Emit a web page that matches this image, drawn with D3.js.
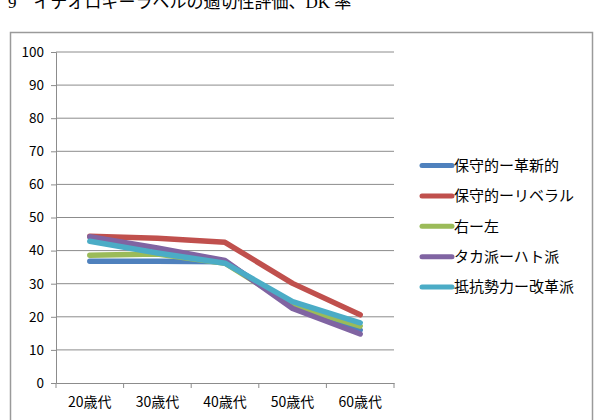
<!DOCTYPE html>
<html>
<head>
<meta charset="utf-8">
<script src="https://cdn.jsdelivr.net/npm/d3@7"></script>
<style>
  body { margin: 0; background: #fff; }
  svg { display: block; }
</style>
</head>
<body>
<div class="chart"></div>
<script>
// data
const ages = ['20歳代', '30歳代', '40歳代', '50歳代', '60歳代']
const seriesNames = ['保守的ー革新的', '保守的ーリベラル', '右ー左', 'タカ派ーハト派', '抵抗勢力ー改革派']
const conservProgressive = [36.8, 36.8, 36.6, 23.5, 16.0]
const conservLiberal = [44.3, 43.7, 42.5, 30.1, 20.6]
const rightLeft = [38.6, 39.0, 36.2, 23.4, 17.2]
const hawkDove = [44.2, 40.8, 37.0, 22.5, 14.8]
const resistReform = [42.8, 39.3, 36.2, 24.6, 18.2]
const yTicks = [0, 10, 20, 30, 40, 50, 60, 70, 80, 90, 100]

const allSeries = [conservProgressive, conservLiberal, rightLeft, hawkDove, resistReform]
const colors = ['#4F81BD', '#C0504D', '#9BBB59', '#8064A2', '#4BACC6']

const width = 601, height = 420
const plotLeft = 56, plotRight = 394, plotTop = 52, plotBottom = 383

const svg = d3.select('.chart')
    .append('svg')
    .attr('width', width)
    .attr('height', height)

// title, partly above the top edge like the scan
svg.append('text')
    .attr('x', 8)
    .attr('y', 8)
    .style('font-family', '"Liberation Serif", "Noto Sans CJK JP", serif')
    .style('font-size', '17px')
    .text('9\u3000イデオロギーラベルの適切性評価、DK 率')

// chart frame
svg.append('rect')
    .attr('x', 10.5)
    .attr('y', 32.5)
    .attr('width', 582)
    .attr('height', 400)
    .style('fill', 'none')
    .style('stroke', '#9a9a9a')
    .style('stroke-width', 1.5)

//configure scales
const xScale = d3.scaleBand()
    .domain(ages)
    .range([plotLeft, plotRight])

const yScale = d3.scaleLinear()
    .domain([0, 100])
    .range([plotBottom, plotTop])

// gridlines
svg.selectAll('line.grid')
    .data(yTicks.filter(d => d > 0))
    .enter()
    .append('line')
        .attr('class', 'grid')
        .attr('x1', plotLeft)
        .attr('x2', plotRight)
        .attr('y1', d => yScale(d))
        .attr('y2', d => yScale(d))
        .style('stroke', '#8c8c8c')
        .style('stroke-width', 1)

// y axis
const yAxis = svg.append('g')
    .attr('transform', `translate(${plotLeft}, 0)`)
    .call(d3.axisLeft(yScale).tickValues(yTicks).tickSize(5).tickPadding(7))
yAxis.selectAll('path, line').style('stroke', '#8c8c8c')
yAxis.selectAll('text')
    .style('font-family', '"Noto Sans CJK JP", sans-serif')
    .style('font-size', '13.5px')
    .style('fill', '#000')

// x axis: labels centered, ticks on category boundaries
const xAxis = svg.append('g')
    .attr('transform', `translate(0, ${plotBottom})`)
    .call(d3.axisBottom(xScale).tickSize(0).tickPadding(14).tickSizeOuter(0))
xAxis.select('path').style('stroke', '#8c8c8c')
xAxis.selectAll('text')
    .style('font-family', '"Noto Sans CJK JP", sans-serif')
    .style('font-size', '14px')
    .style('fill', '#000')

const edges = ages.map(d => xScale(d)).concat([plotRight])
svg.selectAll('line.xtick')
    .data(edges)
    .enter()
    .append('line')
        .attr('class', 'xtick')
        .attr('x1', d => d)
        .attr('x2', d => d)
        .attr('y1', plotBottom)
        .attr('y2', plotBottom + 5)
        .style('stroke', '#8c8c8c')

// lines
const line = d3.line()
    .x((d, i) => xScale(ages[i]) + xScale.bandwidth() / 2)
    .y(d => yScale(d))

svg.selectAll('path.series')
    .data(allSeries)
    .enter()
    .append('path')
        .attr('class', 'series')
        .attr('d', line)
        .style('fill', 'none')
        .style('stroke', (d, i) => colors[i])
        .style('stroke-width', 5.5)
        .style('stroke-linecap', 'round')
        .style('stroke-linejoin', 'round')

//add legend
const legend = svg.selectAll('g.legend')
    .data(seriesNames)
    .enter()
    .append('g')
        .attr('class', 'legend')
        .attr('transform', (d, i) => `translate(0, ${165.5 + i * 30.4})`)

legend.append('line')
    .attr('x1', 422)
    .attr('x2', 452)
    .style('stroke', (d, i) => colors[i])
    .style('stroke-width', 5)
    .style('stroke-linecap', 'round')

legend.append('text')
    .attr('x', 454)
    .attr('dy', '0.35em')
    .style('font-family', '"Noto Sans CJK JP", sans-serif')
    .style('font-size', '15px')
    .text(d => d)
</script>
</body>
</html>
